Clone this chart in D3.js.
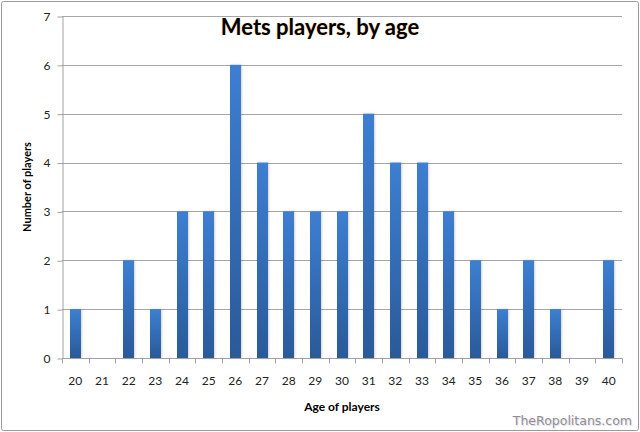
<!DOCTYPE html>
<html lang="en">
<head>
  <meta charset="UTF-8">
  <title>Mets players, by age</title>
  <script src="https://d3js.org/d3.v7.min.js"></script>
  <style>
    body {
      margin: 0;
      background: #fff;
      font-family: Lato, "Open Sans", sans-serif;
    }
    svg { display: block; }
    .grid line { stroke: #a6a6a6; stroke-width: 1px; }
    .axis path, .axis line { stroke: #a0a0a0; stroke-width: 1px; }
    .axis text { font-size: 12px; fill: #222; font-family: Lato, sans-serif; }
  </style>
</head>
<body>
<div id="chart"></div>
<script>
  const ages = ["20","21","22","23","24","25","26","27","28","29","30",
                "31","32","33","34","35","36","37","38","39","40"];
  const players = [1, 0, 2, 1, 3, 3, 6, 4, 3, 3, 3, 5, 4, 4, 3, 2, 1, 2, 1, 0, 2];
  const yTicks = [0, 1, 2, 3, 4, 5, 6, 7];

  const width = 640,
        height = 432,
        margin = { top: 16, right: 18, bottom: 74, left: 62 };

  const svg = d3.select("#chart")
    .append("svg")
    .attr("width", width)
    .attr("height", height);

  // outer frame
  svg.append("rect")
    .attr("x", 1.5).attr("y", 1.5)
    .attr("width", width - 3).attr("height", height - 3)
    .attr("rx", 2)
    .attr("fill", "#fff")
    .attr("stroke", "#9a9a9a");

  const defs = svg.append("defs");
  const grad = defs.append("linearGradient")
    .attr("id", "bar-gradient")
    .attr("x1", "0%").attr("y1", "0%")
    .attr("x2", "0%").attr("y2", "100%");
  grad.append("stop").attr("offset", "0%").attr("stop-color", "#3d7fd2");
  grad.append("stop").attr("offset", "100%").attr("stop-color", "#2a5a98");

  const x = d3.scaleBand()
    .domain(ages)
    .range([margin.left, width - margin.right])
    .paddingInner(0.6)
    .paddingOuter(0.3);

  const xEdge = d3.scaleLinear()
    .domain([0, ages.length])
    .range([margin.left, width - margin.right]);

  const y = d3.scaleLinear()
    .domain([0, 7])
    .range([height - margin.bottom, margin.top]);

  // gridlines
  svg.append("g")
    .attr("class", "grid")
    .selectAll("line")
    .data(yTicks.slice(1))
    .enter().append("line")
    .attr("x1", margin.left)
    .attr("x2", width - margin.right)
    .attr("y1", d => Math.round(y(d)) + 0.5)
    .attr("y2", d => Math.round(y(d)) + 0.5);

  // bars
  const bw = 11;
  svg.append("g")
    .selectAll("rect")
    .data(players)
    .enter().append("rect")
    .attr("x", (d, i) => Math.round(x(ages[i]) + x.bandwidth() / 2 - bw / 2))
    .attr("y", d => y(d))
    .attr("width", bw)
    .attr("height", d => y(0) - y(d))
    .attr("fill", "url(#bar-gradient)")
    .style("filter", "drop-shadow(1px 0px 1px rgba(0,0,0,0.18))");

  // y axis
  svg.append("g")
    .attr("class", "axis")
    .attr("transform", `translate(${margin.left + 0.5},0.5)`)
    .call(d3.axisLeft(y).tickValues(yTicks).tickFormat(d3.format("d"))
      .tickSize(5).tickPadding(7).tickSizeOuter(0));

  // x axis
  const xAxis = svg.append("g")
    .attr("class", "axis")
    .attr("transform", `translate(0,${Math.round(y(0)) + 0.5})`);
  xAxis.append("line")
    .attr("x1", margin.left)
    .attr("x2", width - margin.right);
  xAxis.selectAll(".tick")
    .data(d3.range(ages.length + 1))
    .enter().append("line")
    .attr("x1", d => Math.round(xEdge(d)) + 0.5)
    .attr("x2", d => Math.round(xEdge(d)) + 0.5)
    .attr("y1", 0)
    .attr("y2", 5);
  xAxis.selectAll("text")
    .data(ages)
    .enter().append("text")
    .attr("x", d => x(d) + x.bandwidth() / 2)
    .attr("y", 26)
    .attr("text-anchor", "middle")
    .text(d => d);

  // titles
  svg.append("text")
    .attr("x", 320)
    .attr("y", 35)
    .attr("text-anchor", "middle")
    .attr("font-size", 22)
    .attr("font-weight", "bold")
    .attr("fill", "#000")
    .style("text-shadow", "0 0 2px rgba(255,190,120,0.7)")
    .text("Mets players, by age");

  svg.append("text")
    .attr("x", 342)
    .attr("y", 411)
    .attr("text-anchor", "middle")
    .attr("font-size", 12)
    .attr("font-weight", "bold")
    .text("Age of players");

  svg.append("text")
    .attr("transform", "translate(31,187) rotate(-90)")
    .attr("text-anchor", "middle")
    .attr("font-size", 11)
    .attr("font-weight", "bold")
    .text("Number of players");

  // watermark
  svg.append("text")
    .attr("x", 632)
    .attr("y", 425)
    .attr("text-anchor", "end")
    .attr("font-family", "'DejaVu Sans', sans-serif")
    .attr("font-size", 12.5)
    .attr("fill", "#8f8f8f")
    .style("text-shadow", "1px 1px 0 #e6dcef")
    .text("TheRopolitans.com");
</script>
</body>
</html>
